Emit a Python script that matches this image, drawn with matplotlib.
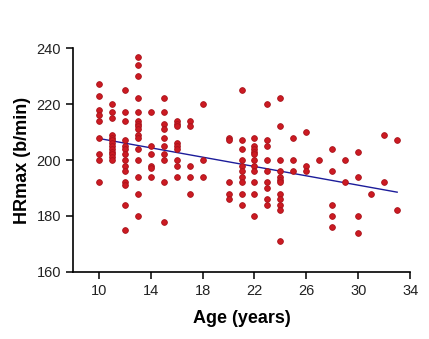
import matplotlib.pyplot as plt

# data (age in years, HRmax in b/min)
age_10 = [227, 223, 218, 216, 214, 208, 202, 200, 192]
age_11 = [220, 217, 215, 209, 208, 207, 206, 205, 204, 203, 202, 201, 200]
age_12 = [225, 217, 214, 207, 205, 204, 202, 200, 198, 196, 192, 191, 184, 175]
age_13 = [237, 234, 230, 222, 217, 214, 213, 212, 211, 209, 208, 204, 200, 194, 188, 180]
age_14 = [217, 205, 202, 198, 197, 194]
age_15 = [222, 217, 213, 211, 208, 205, 202, 200, 192, 178]
age_16 = [214, 213, 212, 206, 205, 204, 200, 198, 194]
age_17 = [214, 212, 198, 194, 188]
age_18 = [220, 200, 194]
age_20 = [208, 207, 192, 188, 186]
age_21 = [225, 207, 204, 200, 198, 196, 194, 192, 188, 184]
age_22 = [208, 205, 204, 203, 202, 200, 198, 196, 192, 188, 180]
age_23 = [220, 207, 205, 200, 196, 192, 190, 186, 184]
age_24 = [222, 212, 200, 196, 194, 193, 192, 188, 186, 184, 182, 171]
age_25 = [208, 200, 196]
age_26 = [210, 198, 196]
age_27 = [200]
age_28 = [204, 196, 184, 180, 176]
age_29 = [200, 192]
age_30 = [203, 194, 180, 174]
age_31 = [188]
age_32 = [209, 192]
age_33 = [207, 182]

groups = {10: age_10, 11: age_11, 12: age_12, 13: age_13, 14: age_14,
          15: age_15, 16: age_16, 17: age_17, 18: age_18, 20: age_20,
          21: age_21, 22: age_22, 23: age_23, 24: age_24, 25: age_25,
          26: age_26, 27: age_27, 28: age_28, 29: age_29, 30: age_30,
          31: age_31, 32: age_32, 33: age_33}

# regression line as drawn in the reference
fit_x = [10, 33]
fit_y = [207.7, 188.5]

ages = []
hr = []
for a, vals in groups.items():
    ages += [a] * len(vals)
    hr += vals

plt.rcParams['font.family'] = ['Liberation Sans', 'DejaVu Sans']

fig = plt.figure(figsize=(4.29, 3.39), dpi=100)
ax = fig.add_axes([0.170, 0.198, 0.786, 0.660])

ax.scatter(ages, hr, s=17, color='#cc1a22', edgecolors='#a8121a', linewidths=0.6, zorder=3)
ax.plot(fit_x, fit_y, color='#1c1c9a', lw=1.0, zorder=2)

ax.set_xlim(8, 34)
ax.set_ylim(160, 240)
ax.set_xticks([10, 14, 18, 22, 26, 30, 34])
ax.set_yticks([160, 180, 200, 220, 240])

for s in ['top', 'right']:
    ax.spines[s].set_visible(False)
for s in ['left', 'bottom']:
    ax.spines[s].set_linewidth(1.2)

ax.tick_params(direction='out', length=5, width=1.1, labelsize=10.5, colors='black', labelcolor='#222222')

ax.set_xlabel('Age (years)', fontweight='bold', fontsize=13, labelpad=9)
ax.set_ylabel('HRmax (b/min)', fontweight='bold', fontsize=13, labelpad=4)

fig.savefig('out.png', dpi=100)
